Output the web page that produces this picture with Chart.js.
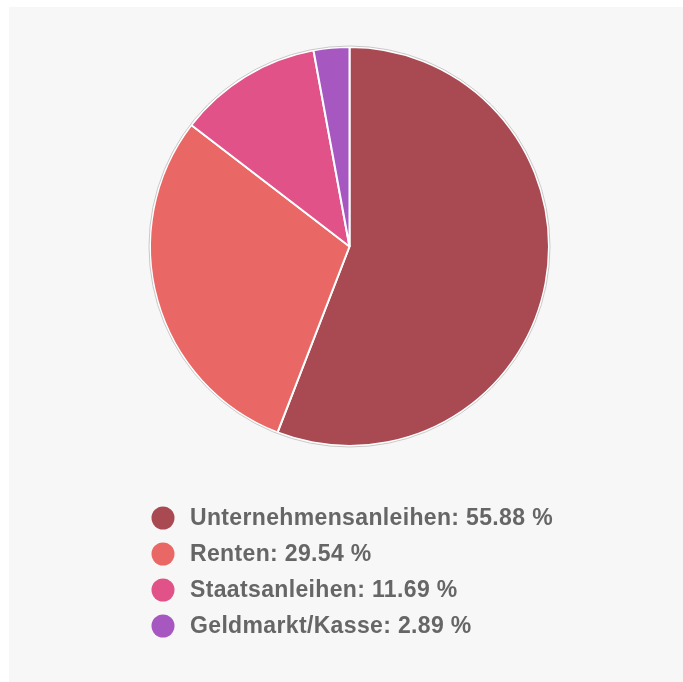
<!DOCTYPE html>
<html>
<head>
<meta charset="utf-8">
<script src="https://cdn.jsdelivr.net/npm/chart.js@4/dist/chart.umd.min.js"></script>
<style>
  html, body { margin: 0; padding: 0; background: #fff; }
  #panel { position: absolute; left: 9px; top: 7px; width: 674px; height: 675px; background: #f7f7f7; }
  #pie { display: block; }
</style>
</head>
<body>
<div id="panel"><canvas id="pie" width="674" height="675"></canvas></div>
<script>
const labels = ['Unternehmensanleihen', 'Renten', 'Staatsanleihen', 'Geldmarkt/Kasse'];
const values = [55.88, 29.54, 11.69, 2.89];
const colors = ['#a94a53', '#e96865', '#e05288', '#a657c0'];

// gray rim round the whole pie
const rimPlugin = {
  id: 'rim',
  afterDatasetsDraw(chart) {
    const arc = chart.getDatasetMeta(0).data[0];
    if (!arc) return;
    const ctx = chart.ctx;
    ctx.save();
    ctx.beginPath();
    ctx.arc(arc.x, arc.y, arc.outerRadius + 1, 0, Math.PI * 2);
    ctx.strokeStyle = '#c8c8c8';
    ctx.lineWidth = 1;
    ctx.stroke();
    ctx.restore();
  }
};

// vertical legend with round markers, left aligned
const listLegend = {
  id: 'listLegend',
  afterDraw(chart) {
    const ctx = chart.ctx;
    const area = chart.chartArea;
    const x0 = 154, y0 = area.bottom + 71, step = 36;
    ctx.save();
    ctx.font = 'bold 23px "Liberation Sans", Arial, Helvetica, sans-serif';
    ctx.letterSpacing = '0.35px';
    ctx.textBaseline = 'middle';
    chart.data.labels.forEach((lab, i) => {
      const y = y0 + i * step;
      ctx.beginPath();
      ctx.arc(x0, y, 11.5, 0, Math.PI * 2);
      ctx.fillStyle = chart.data.datasets[0].backgroundColor[i];
      ctx.fill();
      ctx.fillStyle = '#666666';
      ctx.fillText(lab + ': ' + chart.data.datasets[0].data[i].toFixed(2) + ' %', x0 + 27, y + 1);
    });
    ctx.restore();
  }
};

new Chart(document.getElementById('pie'), {
  type: 'pie',
  data: {
    labels,
    datasets: [{
      data: values,
      backgroundColor: colors,
      borderColor: '#ffffff',
      borderWidth: 2,
      hoverOffset: 0
    }]
  },
  options: {
    responsive: false,
    animation: false,
    layout: { padding: { top: 39, bottom: 235, left: 7, right: 0 } },
    plugins: {
      legend: { display: false },
      tooltip: { enabled: false }
    }
  },
  plugins: [rimPlugin, listLegend]
});
</script>
</body>
</html>
